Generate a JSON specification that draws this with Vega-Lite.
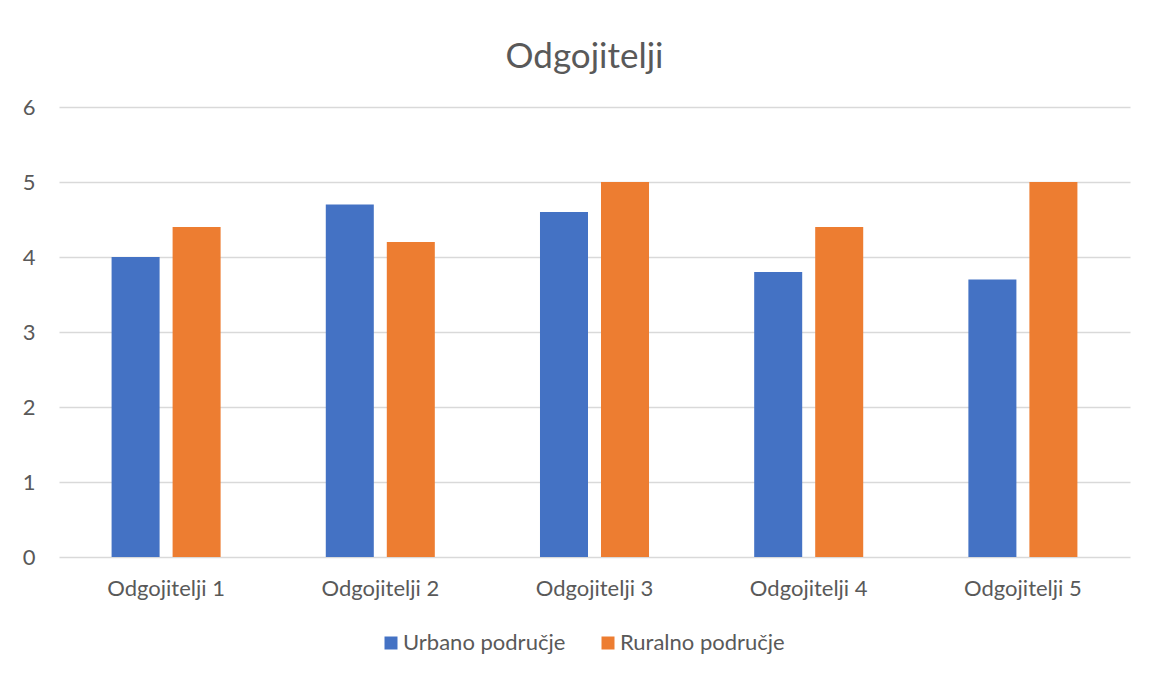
{
  "$schema": "https://vega.github.io/schema/vega-lite/v6.json",
  "autosize": "none",
  "width": 1071,
  "height": 450,
  "padding": {"left": 59, "top": 107, "right": 22, "bottom": 118},
  "background": "white",
  "title": {
    "text": "Odgojitelji",
    "anchor": "middle",
    "frame": "group",
    "dx": -10,
    "offset": 21,
    "font": "Lato",
    "fontSize": 35,
    "fontWeight": "normal",
    "color": "#595959"
  },
  "data": {
    "values": [
      {"grupa": "Odgojitelji 1", "podrucje": "Urbano područje", "vrijednost": 4.0},
      {"grupa": "Odgojitelji 1", "podrucje": "Ruralno područje", "vrijednost": 4.4},
      {"grupa": "Odgojitelji 2", "podrucje": "Urbano područje", "vrijednost": 4.7},
      {"grupa": "Odgojitelji 2", "podrucje": "Ruralno područje", "vrijednost": 4.2},
      {"grupa": "Odgojitelji 3", "podrucje": "Urbano područje", "vrijednost": 4.6},
      {"grupa": "Odgojitelji 3", "podrucje": "Ruralno područje", "vrijednost": 5.0},
      {"grupa": "Odgojitelji 4", "podrucje": "Urbano područje", "vrijednost": 3.8},
      {"grupa": "Odgojitelji 4", "podrucje": "Ruralno područje", "vrijednost": 4.4},
      {"grupa": "Odgojitelji 5", "podrucje": "Urbano područje", "vrijednost": 3.7},
      {"grupa": "Odgojitelji 5", "podrucje": "Ruralno područje", "vrijednost": 5.0}
    ]
  },
  "mark": {"type": "bar"},
  "encoding": {
    "x": {
      "field": "grupa",
      "type": "nominal",
      "sort": null,
      "title": null,
      "scale": {"paddingInner": 0.491, "paddingOuter": 0.2455},
      "axis": {
        "labelAngle": 0,
        "ticks": false,
        "domain": false,
        "labelPadding": 21,
        "labelFont": "Lato",
        "labelFontSize": 22,
        "labelColor": "#595959"
      }
    },
    "xOffset": {
      "field": "podrucje",
      "type": "nominal",
      "sort": ["Urbano područje", "Ruralno područje"],
      "scale": {"paddingInner": 0.213, "paddingOuter": 0}
    },
    "y": {
      "field": "vrijednost",
      "type": "quantitative",
      "title": null,
      "scale": {"domain": [0, 6], "nice": false},
      "axis": {
        "values": [0, 1, 2, 3, 4, 5, 6],
        "ticks": false,
        "tickSize": 0,
        "domain": false,
        "labelPadding": 24,
        "labelFont": "Lato",
        "labelFontSize": 22,
        "labelColor": "#595959",
        "gridColor": "#d9d9d9",
        "gridWidth": 1.5
      }
    },
    "color": {
      "field": "podrucje",
      "type": "nominal",
      "sort": ["Urbano područje", "Ruralno područje"],
      "scale": {
        "domain": ["Urbano područje", "Ruralno područje"],
        "range": ["#4472c4", "#ed7d31"]
      },
      "legend": {
        "title": null,
        "orient": "none",
        "direction": "horizontal",
        "legendX": 321,
        "legendY": 525,
        "symbolType": "square",
        "symbolSize": 169,
        "symbolStrokeWidth": 0,
        "labelOffset": 1,
        "labelLimit": 400,
        "columnPadding": 31,
        "labelFont": "Lato",
        "labelFontSize": 22,
        "labelColor": "#595959"
      }
    }
  },
  "config": {
    "view": {"stroke": null}
  }
}
